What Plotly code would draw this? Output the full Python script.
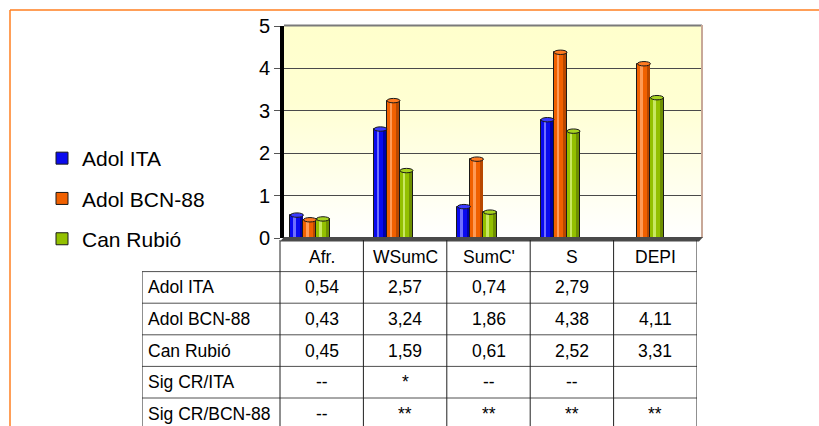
import base64
import plotly.graph_objects as go

# ---------------- data ----------------
categories = ["Afr.", "WSumC", "SumC'", "S", "DEPI"]
series_names = ["Adol ITA", "Adol BCN-88", "Can Rubió"]
adol_ita = [0.54, 2.57, 0.74, 2.79, None]
adol_bcn88 = [0.43, 3.24, 1.86, 4.38, 4.11]
can_rubio = [0.45, 1.59, 0.61, 2.52, 3.31]
sig_cr_ita = ["--", "*", "--", "--", ""]
sig_cr_bcn88 = ["--", "**", "**", "**", "**"]
table_row_labels = ["Adol ITA", "Adol BCN-88", "Can Rubió", "Sig CR/ITA", "Sig CR/BCN-88"]
y_ticks = [0, 1, 2, 3, 4, 5]

# ---------------- styling ----------------
W, H = 819, 426
FONT = "Liberation Sans, Arial, sans-serif"
colors = ["#0A0AEE", "#F06000", "#93C000"]
light = ["#6F6FFF", "#FF9A55", "#C8E860"]
dark = ["#0000A8", "#B84800", "#6E9000"]
caps = ["#3A3AFF", "#FF7A20", "#A8D420"]


def px(x):
    return x / W


def py(y):
    return 1 - y / H


def fmt(v):
    return "" if v is None else f"{v:.2f}".replace(".", ",")


series = [adol_ita, adol_bcn88, can_rubio]
bw = 0.156
offsets = [-0.234, -0.078, 0.078]

fig = go.Figure()
shapes = []
for k, (name, vals) in enumerate(zip(series_names, series)):
    fig.add_trace(go.Bar(
        x=categories, y=vals, name=name, legendgroup=name,
        offset=offsets[k], width=bw,
        marker=dict(color=colors[k], line=dict(color="#1A1A1A", width=1)),
        xaxis="x", yaxis="y", hoverinfo="skip",
    ))
    # cylinder highlight & shade strips
    fig.add_trace(go.Bar(
        x=categories, y=vals, showlegend=False, legendgroup=name,
        offset=offsets[k] + 0.2 * bw, width=0.22 * bw,
        marker=dict(color=light[k], line=dict(width=0)),
        xaxis="x", yaxis="y", hoverinfo="skip",
    ))
    fig.add_trace(go.Bar(
        x=categories, y=vals, showlegend=False, legendgroup=name,
        offset=offsets[k] + 0.72 * bw, width=0.24 * bw,
        marker=dict(color=dark[k], line=dict(width=0)),
        xaxis="x", yaxis="y", hoverinfo="skip",
    ))
    for i, v in enumerate(vals):
        if v is None:
            continue
        shapes.append(dict(
            type="circle", xref="x", yref="y",
            xsizemode="pixel", ysizemode="pixel",
            xanchor=i + offsets[k] + bw / 2, yanchor=v,
            x0=-6.5, x1=6.5, y0=-2.2, y1=2.2,
            fillcolor=caps[k], line=dict(color="#1A1A1A", width=1),
        ))

# ---------------- chart frame ----------------
shapes.append(dict(type="line", xref="paper", yref="paper",
                   x0=px(10), x1=1, y0=py(10), y1=py(10),
                   line=dict(color="#FF7F20", width=1.5)))
shapes.append(dict(type="line", xref="paper", yref="paper",
                   x0=px(10), x1=px(10), y0=py(10), y1=0,
                   line=dict(color="#FF7F20", width=1.5)))
shapes.append(dict(type="line", xref="paper", yref="paper",
                   x0=px(284), x1=px(702), y0=py(25.5), y1=py(25.5),
                   line=dict(color="#7A7A7A", width=2)))
shapes.append(dict(type="line", xref="paper", yref="paper",
                   x0=px(702), x1=px(702), y0=py(25), y1=py(238),
                   line=dict(color="#C8A898", width=2)))
shapes.append(dict(type="path", xref="paper", yref="paper",
                   path=f"M {px(280)},{py(241.5)} L {px(284)},{py(237)} L {px(703)},{py(237)} L {px(699)},{py(241.5)} Z",
                   fillcolor="#4A4A4A", line=dict(width=0), layer="above"))

# ---------------- table ----------------
ROW_H = 31.6
t_top, t_bot = 240, H
y2_range = [-0.5 + (t_bot - t_top) / ROW_H, -0.5]
label_left = -0.5 - (280 - 142) / 83.4
x2_range = [label_left, 4.5]
line_col = "#202020"
hline_col = "#505050"

for r in range(5):
    yv = r + 0.5
    shapes.append(dict(type="line", xref="x2", yref="y2",
                       x0=label_left, x1=4.5, y0=yv, y1=yv,
                       line=dict(color=hline_col, width=1)))
shapes.append(dict(type="line", xref="x2", yref="y2",
                   x0=label_left, x1=label_left, y0=0.5, y1=y2_range[0],
                   line=dict(color=line_col, width=1)))
for c in range(6):
    xv = c - 0.5
    shapes.append(dict(type="line", xref="x2", yref="y2",
                       x0=xv, x1=xv, y0=-0.5, y1=y2_range[0],
                       line=dict(color=line_col, width=1)))

annotations = []
tfont = dict(family=FONT, size=17.5, color="#000000")
for i, c in enumerate(categories):
    annotations.append(dict(x=i, y=0, xref="x2", yref="y2", text=c,
                            showarrow=False, font=tfont, yshift=-1))
rows_vals = [[fmt(v) for v in adol_ita], [fmt(v) for v in adol_bcn88],
             [fmt(v) for v in can_rubio], sig_cr_ita, sig_cr_bcn88]
for r, (lab, vals) in enumerate(zip(table_row_labels, rows_vals), start=1):
    annotations.append(dict(x=label_left, y=r, xref="x2", yref="y2", text=lab,
                            showarrow=False, xanchor="left", xshift=4, font=tfont))
    for i, v in enumerate(vals):
        if v == "":
            continue
        annotations.append(dict(x=i, y=r, xref="x2", yref="y2", text=v,
                                showarrow=False, font=tfont))

svg = ('<svg xmlns="http://www.w3.org/2000/svg" width="100" height="100" '
       'viewBox="0 0 100 100" preserveAspectRatio="none">'
       '<defs><linearGradient id="g" x1="0" y1="0" x2="0" y2="1">'
       '<stop offset="0" stop-color="#FFFFCC"/><stop offset="0.35" stop-color="#FFFFD2"/>'
       '<stop offset="1" stop-color="#FFFFFF"/></linearGradient></defs>'
       '<rect width="100" height="100" fill="url(#g)"/></svg>')
src = "data:image/svg+xml;base64," + base64.b64encode(svg.encode()).decode()

fig.update_layout(
    width=W, height=H, autosize=False,
    margin=dict(l=0, r=0, t=0, b=0, pad=0, autoexpand=False),
    paper_bgcolor="white", plot_bgcolor="rgba(0,0,0,0)",
    barmode="overlay", bargap=0,
    font=dict(family=FONT, color="#000000"),
    xaxis=dict(domain=[px(284), px(702)], type="category",
               categoryorder="array", categoryarray=categories,
               range=[-0.311, 4.695], showticklabels=False, showgrid=False,
               zeroline=False, showline=False, ticks="", fixedrange=True,
               automargin=False),
    yaxis=dict(domain=[py(238), py(26)], range=[0, 5], tickvals=y_ticks,
               showgrid=True, gridcolor="#4A4A4A", gridwidth=1,
               zeroline=False, showline=True, linecolor="#000000", linewidth=4,
               ticks="outside", ticklen=6, tickcolor="#555555", tickwidth=1,
               tickfont=dict(family=FONT, size=20, color="#000000"),
               fixedrange=True, automargin=False),
    xaxis2=dict(domain=[px(142), px(697)], range=x2_range, visible=False,
                anchor="y2", fixedrange=True, automargin=False),
    yaxis2=dict(domain=[0, py(240)], range=y2_range, visible=False,
                anchor="x2", fixedrange=True, automargin=False),
    legend=dict(x=px(42), y=py(138), xanchor="left", yanchor="top",
                font=dict(family=FONT, size=21, color="#000000"),
                bgcolor="rgba(0,0,0,0)", tracegroupgap=10, itemwidth=30),
    showlegend=True,
    shapes=shapes,
    annotations=annotations,
    images=[dict(source=src, xref="paper", yref="paper",
                 x=px(284), y=py(25), sizex=px(702) - px(284),
                 sizey=(238 - 25) / H, sizing="stretch", layer="below",
                 xanchor="left", yanchor="top")],
)

post = ("document.body.style.margin='0';document.body.style.overflow='hidden';"
        "var gd=document.getElementById('{plot_id}');gd.style.position='fixed';"
        "gd.style.left='0px';gd.style.top='0px';")
fig.write_html("out.html", post_script=post, config={"displayModeBar": False})
